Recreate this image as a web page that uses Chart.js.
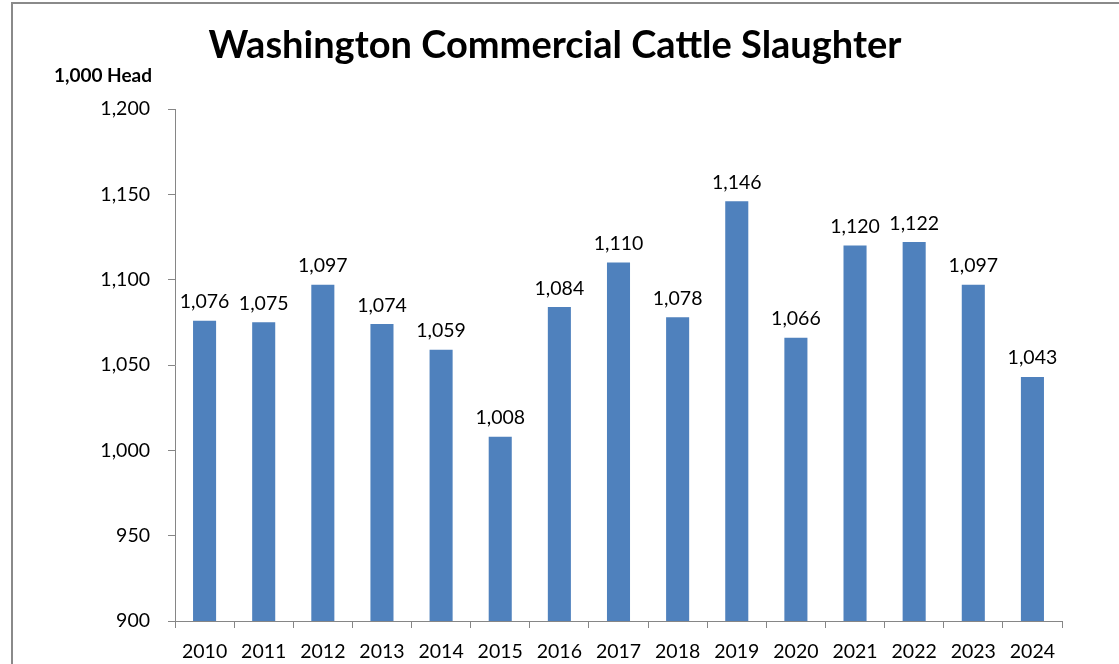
<!DOCTYPE html>
<html>
<head>
<meta charset="utf-8">
<script src="https://cdn.jsdelivr.net/npm/chart.js@4.4.1/dist/chart.umd.min.js"></script>
<style>
  html, body { margin: 0; padding: 0; background: #fff; overflow: hidden; }
  #wrap { position: relative; width: 1119px; height: 664px; }
  #frame {
    position: absolute; left: 11px; top: 2px; width: 1200px; height: 700px;
    border-top: 2px solid #8a8a8a; border-left: 2px solid #8a8a8a;
  }
  canvas { position: absolute; left: 0; top: 0; }
</style>
</head>
<body>
<div id="wrap">
  <div id="frame"></div>
  <canvas id="chart" width="1119" height="664"></canvas>
</div>
<script>
const years = ["2010", "2011", "2012", "2013", "2014", "2015", "2016", "2017",
  "2018", "2019", "2020", "2021", "2022", "2023", "2024"];
const slaughter = [1076, 1075, 1097, 1074, 1059, 1008, 1084, 1110,
  1078, 1146, 1066, 1120, 1122, 1097, 1043];

const titleText = "Washington Commercial Cattle Slaughter";
const unitText = "1,000 Head";
const fontFamily = "Lato, 'Open Sans', sans-serif";
const axisGray = "#868686";

// titles + value labels drawn straight on the canvas
const labelsPlugin = {
  id: "labels",
  afterDatasetsDraw(chart) {
    const ctx = chart.ctx;
    ctx.save();
    ctx.fillStyle = "#000";
    ctx.textAlign = "center";
    ctx.textBaseline = "bottom";
    ctx.font = "19.5px " + fontFamily;
    chart.getDatasetMeta(0).data.forEach((bar, i) => {
      ctx.fillText(slaughter[i].toLocaleString("en-US"), bar.x, bar.y - 9);
    });

    ctx.font = "bold 38px " + fontFamily;
    ctx.textBaseline = "alphabetic";
    ctx.fillText(titleText, 555, 58);

    ctx.font = "bold 19px " + fontFamily;
    ctx.fillText(unitText, 103, 82);
    ctx.restore();
  }
};

new Chart(document.getElementById("chart").getContext("2d"), {
  type: "bar",
  data: {
    labels: years,
    datasets: [{
      data: slaughter,
      backgroundColor: "#4f81bd",
      categoryPercentage: 1,
      barPercentage: 0.39,
    }],
  },
  options: {
    responsive: false,
    animation: false,
    layout: { padding: { left: 0, right: 57, top: 109, bottom: 0 } },
    scales: {
      x: {
        grid: { drawOnChartArea: false, tickLength: 7, color: axisGray },
        border: { color: axisGray, width: 1 },
        ticks: { color: "#000", font: { family: fontFamily, size: 19.5 }, padding: 12, maxRotation: 0 },
        afterFit: (scale) => { scale.height = 43; },
      },
      y: {
        min: 900,
        max: 1200,
        grid: { drawOnChartArea: false, tickLength: 7, color: axisGray },
        border: { color: axisGray, width: 1 },
        ticks: {
          stepSize: 50,
          color: "#000",
          padding: 18,
          font: { family: fontFamily, size: 19.5 },
          callback: (v) => v.toLocaleString("en-US"),
        },
        afterFit: (scale) => { scale.width = 175; },
      },
    },
    plugins: {
      legend: { display: false },
      tooltip: { enabled: false },
      title: { display: false },
    },
  },
  plugins: [labelsPlugin],
});
</script>
</body>
</html>
